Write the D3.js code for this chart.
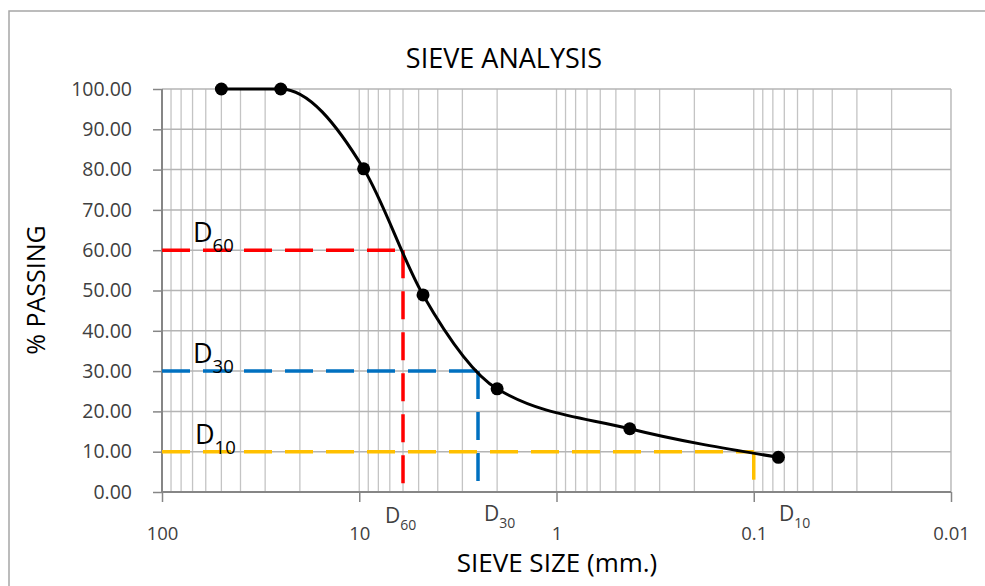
<!DOCTYPE html>
<html><head><meta charset="utf-8">
<script src="https://cdn.jsdelivr.net/npm/d3@7"></script>
<style>html,body{margin:0;padding:0;background:#fff;}svg{display:block;font-family:"Open Sans",sans-serif;}</style>
</head><body>
<svg id="chart" width="985" height="586"></svg>
<script>
// Data
const sieveSizes = [50, 25, 9.5, 4.75, 2.0, 0.425, 0.075];
const percentPassing = [100, 100, 80.2, 48.9, 25.6, 15.7, 8.6];
const dLabels = ["60", "30", "10"];
const dPercent = [60, 30, 10];
const dSize = [6.0, 2.5, 0.1];
const dColors = ["#ff0000", "#0070c0", "#ffc000"];
const yTicks = [0, 10, 20, 30, 40, 50, 60, 70, 80, 90, 100];
const xTicks = [100, 10, 1, 0.1, 0.01];
const xTickLabels = ["100", "10", "1", "0.1", "0.01"];

const svg = d3.select("#chart");
const L = 162, R = 951, T = 89, B = 492;
const x = d3.scaleLog().domain([100, 0.01]).range([L, R]);
const y = d3.scaleLinear().domain([0, 100]).range([B, T]);

// outer border
svg.append("rect").attr("x", 9).attr("y", 11).attr("width", 990).attr("height", 600)
  .attr("fill", "none").attr("stroke", "#a6a6a6").attr("stroke-width", 1.5);

// title
svg.append("text").attr("x", 504).attr("y", 68).attr("text-anchor", "middle")
  .attr("font-size", 27).attr("fill", "#000").text("SIEVE ANALYSIS");

// vertical gridlines (log minors + majors)
const vGrid = [];
for (let k = 1; k >= -2; k--) for (let m = 1; m <= 9; m++) vGrid.push(m * Math.pow(10, k));
vGrid.push(0.01);
svg.append("g").selectAll("line").data(vGrid).join("line")
  .attr("x1", d => x(d)).attr("x2", d => x(d)).attr("y1", T).attr("y2", B)
  .attr("stroke", "#c4c4c4").attr("stroke-width", 1.3);
// horizontal gridlines
svg.append("g").selectAll("line").data(yTicks.filter(d => d > 0)).join("line")
  .attr("x1", L).attr("x2", R).attr("y1", d => y(d)).attr("y2", d => y(d))
  .attr("stroke", "#b4b4b4").attr("stroke-width", 1.5);

// axes
const yAxis = d3.axisLeft(y).tickValues(yTicks).tickFormat(d3.format(".2f")).tickSize(9).tickPadding(21);
const gy = svg.append("g").attr("transform", `translate(${L},0)`).call(yAxis);
const xAxis = d3.axisBottom(x).tickValues(xTicks).tickFormat((d, i) => xTickLabels[i]).tickSize(10).tickPadding(25);
const gx = svg.append("g").attr("transform", `translate(0,${B})`).call(xAxis);
[gx, gy].forEach(g => {
  g.select(".domain").attr("stroke", "#868686").attr("stroke-width", 2);
  g.selectAll(".tick line").attr("stroke", "#868686").attr("stroke-width", 1.5);
  g.selectAll(".tick text").attr("fill", "#404040").attr("font-family", "Open Sans");
});
gy.selectAll(".tick text").attr("font-size", 19.5);
gx.selectAll(".tick text").attr("font-size", 18.5);
gy.select(".domain").attr("d", `M0,${B}V${T}`);
gx.select(".domain").attr("d", `M${L},0H${R}`);

// axis titles
svg.append("text").attr("transform", "translate(45,290) rotate(-90)").attr("text-anchor", "middle")
  .attr("font-size", 25).attr("fill", "#000").text("% PASSING");
svg.append("text").attr("x", 557).attr("y", 572).attr("text-anchor", "middle")
  .attr("font-size", 26).attr("fill", "#000").text("SIEVE SIZE (mm.)");

// D lines
dPercent.forEach((p, i) => {
  const g = svg.append("g");
  g.append("line").attr("x1", x(100)).attr("x2", x(dSize[i])).attr("y1", y(p)).attr("y2", y(p))
    .attr("stroke", dColors[i]).attr("stroke-width", 3.5).attr("stroke-dasharray", "28,13");
  g.append("line").attr("x1", x(dSize[i])).attr("x2", x(dSize[i])).attr("y1", y(p)).attr("y2", y(0))
    .attr("stroke", dColors[i]).attr("stroke-width", 3.5).attr("stroke-dasharray", "28,13");
});

// curve
const pts = sieveSizes.map((s, i) => [x(s), y(percentPassing[i])]);
svg.append("path").attr("d", d3.line().curve(d3.curveMonotoneX)(pts))
  .attr("fill", "none").attr("stroke", "#000").attr("stroke-width", 3);
svg.append("g").selectAll("circle").data(pts).join("circle")
  .attr("cx", d => d[0]).attr("cy", d => d[1]).attr("r", 6.5).attr("fill", "#000");

// left D labels
const leftLabelX = [193, 193, 195];
dPercent.forEach((p, i) => {
  const t = svg.append("text").attr("x", leftLabelX[i]).attr("y", y(p) - 8).attr("fill", "#000");
  t.append("tspan").attr("font-size", 27).text("D");
  t.append("tspan").attr("font-size", 18.5).attr("dy", 10).text(dLabels[i]);
});
// bottom D labels
const botX = [385, 484, 779];
const botY = [523, 521, 521];
dSize.forEach((s, i) => {
  const t = svg.append("text").attr("x", botX[i]).attr("y", botY[i]).attr("fill", "#404040");
  t.append("tspan").attr("font-size", 21).text("D");
  t.append("tspan").attr("font-size", 14).attr("dy", 7).text(dLabels[i]);
});
</script>
</body></html>
